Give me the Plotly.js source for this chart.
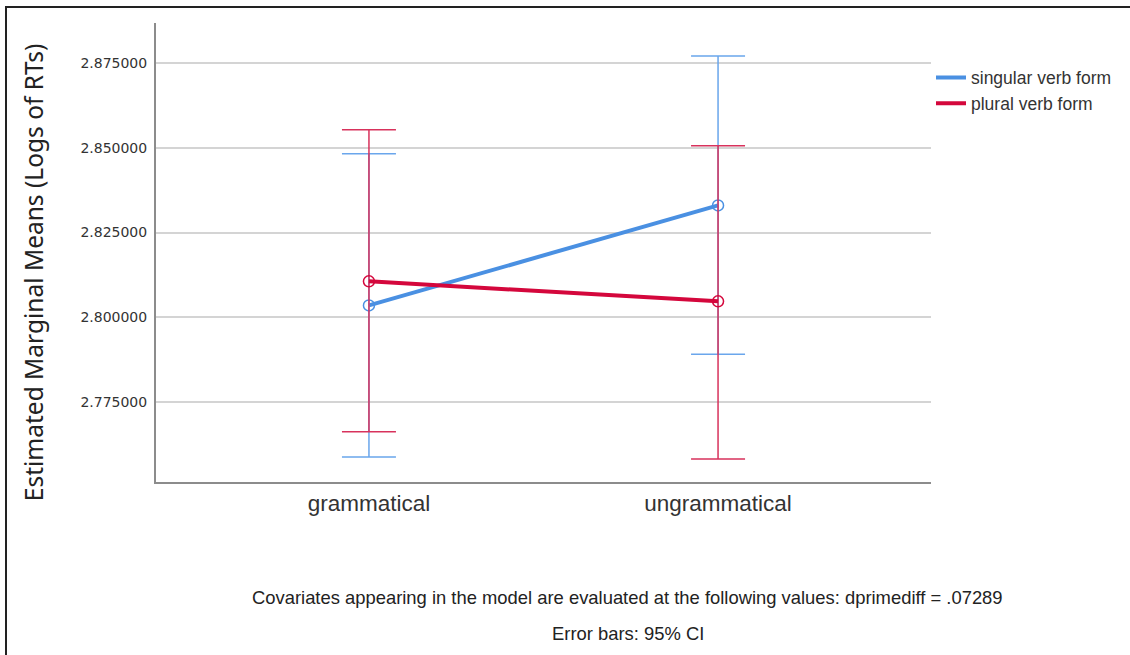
<!DOCTYPE html>
<html>
<head>
<meta charset="utf-8">
<script src="https://cdn.plot.ly/plotly-3.0.1.min.js"></script>
<style>
  html, body { margin: 0; padding: 0; background: #fff; }
  #wrap { position: relative; width: 1130px; height: 655px; overflow: hidden; }
  #chart { width: 1130px; height: 655px; }
  #frame { position: absolute; left: 5px; top: 6px; width: 1200px; height: 700px;
           border-top: 2px solid #222; border-left: 2px solid #222; pointer-events: none; }
</style>
</head>
<body>
<div id="wrap">
  <div id="chart"></div>
  <div id="frame"></div>
</div>
<script>
// ---- data ----
const categories = ["grammatical", "ungrammatical"];
const seriesNames = ["singular verb form", "plural verb form"];

const singularMean  = [2.8035, 2.8330];
const singularUpper = [2.8482, 2.8771];
const singularLower = [2.7588, 2.7891];

const pluralMean  = [2.8106, 2.8047];
const pluralUpper = [2.8553, 2.8506];
const pluralLower = [2.7662, 2.7582];

const yTickVals = [2.775, 2.800, 2.825, 2.850, 2.875];
const yTickText = ["2.775000", "2.800000", "2.825000", "2.850000", "2.875000"];

const yTitle = "Estimated Marginal Means (Logs of RTs)";
const note1 = "Covariates appearing in the model are evaluated at the following values: dprimediff = .07289";
const note2 = "Error bars: 95% CI";

// ---- styling ----
const blue = "#4a90e2", blueErr = "#6aa6ec";
const red = "#d4073c", redErr = "#d8325c";

function plus(u, m) { return u.map((v, i) => v - m[i]); }
function minus(l, m) { return l.map((v, i) => m[i] - v); }

const xIdx = categories.map((c, i) => i);

const traces = [
  {
    x: xIdx, y: singularMean, mode: "lines+markers", showlegend: false,
    line: { color: blue, width: 4 },
    marker: { symbol: "circle-open", size: 11, color: blue, line: { width: 1.5, color: blue } },
    error_y: { type: "data", symmetric: false, array: plus(singularUpper, singularMean),
               arrayminus: minus(singularLower, singularMean), color: blueErr, thickness: 1.5, width: 27 },
    hoverinfo: "skip"
  },
  {
    x: xIdx, y: pluralMean, mode: "lines+markers", showlegend: false,
    line: { color: red, width: 4 },
    marker: { symbol: "circle-open", size: 11, color: red, line: { width: 1.5, color: red } },
    error_y: { type: "data", symmetric: false, array: plus(pluralUpper, pluralMean),
               arrayminus: minus(pluralLower, pluralMean), color: redErr, thickness: 1.5, width: 27 },
    hoverinfo: "skip"
  },
  { x: [null], y: [null], mode: "lines", name: seriesNames[0], line: { color: blue, width: 4 } },
  { x: [null], y: [null], mode: "lines", name: seriesNames[1], line: { color: red, width: 4 } }
];

const layout = {
  width: 1130, height: 655,
  margin: { l: 156, r: 199, t: 23, b: 173, autoexpand: false },
  paper_bgcolor: "#fff", plot_bgcolor: "#fff",
  font: { family: "Liberation Sans, Arial, sans-serif", color: "#333" },
  xaxis: {
    range: [-0.61, 1.61], tickvals: xIdx, ticktext: categories,
    showgrid: false, zeroline: false, showline: true, linecolor: "#8c8c8c", linewidth: 2,
    ticks: "", tickfont: { size: 22.5, color: "#333" }, fixedrange: true
  },
  yaxis: {
    range: [2.7514, 2.8868], tickvals: yTickVals, ticktext: yTickText,
    showgrid: true, gridcolor: "#d4d4d4", gridwidth: 2, zeroline: false,
    showline: true, linecolor: "#8c8c8c", linewidth: 2, ticks: "", ticklen: 0,
    ticklabelstandoff: 4,
    tickfont: { size: 14, color: "#333", family: "DejaVu Sans, sans-serif" }, fixedrange: true
  },
  showlegend: true,
  legend: {
    x: 1.0, y: 0.92, xanchor: "left", yanchor: "top",
    font: { size: 17.5, color: "#333" }, tracegroupgap: 0, itemwidth: 30,
    bgcolor: "rgba(0,0,0,0)"
  },
  annotations: [
    { text: yTitle, xref: "paper", yref: "paper", x: -0.1587, y: 0.455, textangle: -90,
      showarrow: false, xanchor: "center", yanchor: "middle",
      font: { size: 24.5, color: "#222", family: "Noto Sans, Open Sans, sans-serif" } },
    { text: note1, xref: "paper", yref: "paper", x: 0.609, y: -0.2527, showarrow: false,
      xanchor: "center", yanchor: "middle",
      font: { size: 18.4, color: "#222", family: "Liberation Sans, Arial, sans-serif" } },
    { text: note2, xref: "paper", yref: "paper", x: 0.609, y: -0.331, showarrow: false,
      xanchor: "center", yanchor: "middle",
      font: { size: 18.4, color: "#222", family: "Liberation Sans, Arial, sans-serif" } }
  ]
};

Plotly.newPlot("chart", traces, layout, { displayModeBar: false, staticPlot: true });
</script>
</body>
</html>
